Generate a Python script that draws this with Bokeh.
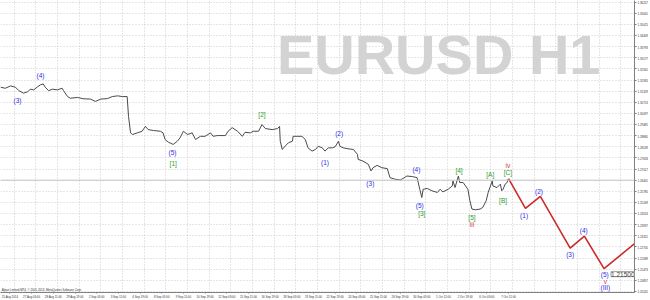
from bokeh.plotting import figure
from bokeh.models import Range1d, FixedTicker, PrintfTickFormatter, Label, Span
from bokeh.core.properties import value
from bokeh.embed import file_html
from bokeh.resources import INLINE

# ---- data (hourly bar index, EURUSD close) ----
bars = [0,7,15,22,27,34,40,44,49,55,59,63,66,71,77,84,91,93,99,103,114,122,133,140,148,158,165,173,180,187,
        189,192,195,202,209,214,218,226,236,240,243,248,255,261,265,270,276,283,288,295,302,310,314,320,332,336,342,350,357,361,
        369,373,381,386,391,401,409,412,413,416,420,425,431,432,438,445,450,454,460,465,469,475,479,484,490,494,499,501,506,513,
        521,527,528,535,543,547,550,556,563,571,575,583,590,594,600,608,615,619,622,624,630,637,645,649,653,661,667,668,671,676,
        678,683,690,693,696,701,708,712,717,720,726,727,733,738,740,742,745,748,749]
prices = [1.3155,1.3149,1.3162,1.3155,1.3136,1.3122,1.3129,1.3144,1.3140,1.3158,1.3168,1.3173,1.3155,1.3136,1.3144,1.3140,1.3149,1.3136,1.3103,1.3094,
          1.3098,1.3091,1.3089,1.3076,1.3089,1.3092,1.3103,1.3107,1.3103,1.3103,1.2993,1.2902,1.2893,1.2902,1.2911,1.2938,1.2920,1.2915,1.2911,1.2902,
          1.2865,1.2850,1.2838,1.2856,1.2874,1.2911,1.2893,1.2902,1.2865,1.2883,1.2883,1.2902,1.2883,1.2887,1.2887,1.2911,1.2931,1.2911,1.2883,1.2905,
          1.2902,1.2911,1.2911,1.2948,1.2926,1.2920,1.2926,1.2938,1.2856,1.2810,1.2828,1.2847,1.2856,1.2883,1.2883,1.2883,1.2865,1.2819,1.2801,1.2810,
          1.2828,1.2819,1.2801,1.2819,1.2819,1.2825,1.2856,1.2828,1.2819,1.2814,1.2810,1.2783,1.2755,1.2746,1.2728,1.2691,1.2709,1.2722,1.2709,1.2704,
          1.2654,1.2645,1.2641,1.2649,1.2663,1.2660,1.2654,1.2590,1.2544,1.2590,1.2594,1.2581,1.2572,1.2590,1.2575,1.2590,1.2608,1.2636,1.2599,1.2663,
          1.2627,1.2627,1.2590,1.2526,1.2480,1.2476,1.2480,1.2489,1.2526,1.2572,1.2636,1.2608,1.2599,1.2618,1.2581,1.2590,1.2618,1.2627,1.2645]

# forecast path
fc_bars = [750, 775, 797, 841, 862, 891, 945]
fc_prices = [1.2649, 1.2484, 1.2550, 1.2264, 1.2330, 1.2150, 1.2316]
target_price = 1.2150
target_text = "1.21500"
current_bid = 1.2640
bid_text = "1.26400"

# wave labels
wave_text = ["(3)","(4)","(5)","[1]","[2]","(1)","(2)","(3)","(4)","(5)","[3]","[4]","[5]","iii","[A]","[B]","iv","[C]",
             "(1)","(2)","(3)","(4)","(5)","v","(III)"]
wave_bar = [25,59,254,255,386,479,500,546,614,619,622,677,696,696,723,742,749,749,773,795,841,861,892,893,893]
wave_price = [1.3080,1.3217,1.2794,1.2733,1.3003,1.2739,1.2898,1.2623,1.2697,1.2502,1.2453,1.2691,1.2436,1.2392,1.2669,1.2526,
              1.2722,1.2680,1.2447,1.2575,1.2227,1.2361,1.2119,1.2080,1.2046]
wave_degree = ["minute","minute","minute","minor","minor","minute","minute","minute","minute","minute","minor","minor","minor",
               "intermediate","minor","minor","intermediate","minor","minute","minute","minute","minute","minute","intermediate","minute"]

# axis ticks
price_ticks = [1.36257,1.35641,1.35025,1.34409,1.33793,1.33177,1.32561,1.31945,1.31329,1.30713,1.30097,1.29481,1.28865,
               1.28249,1.27633,1.27017,1.26401,1.25785,1.25169,1.24553,1.23937,1.23321,1.22705,1.22089,1.21473,1.20857,1.20241]
time_labels = ["25 Aug 2014","27 Aug 03:00","28 Aug 11:00","29 Aug 19:00","2 Sep 03:00","3 Sep 11:00","4 Sep 19:00",
               "8 Sep 03:00","9 Sep 11:00","10 Sep 19:00","12 Sep 03:00","15 Sep 11:00","16 Sep 19:00","18 Sep 03:00",
               "19 Sep 11:00","22 Sep 19:00","24 Sep 03:00","25 Sep 11:00","26 Sep 19:00","30 Sep 03:00","1 Oct 11:00",
               "2 Oct 19:00","6 Oct 03:00","7 Oct 11:00"]
label_every = 32
first_label_bar = 14

degree_colors = {"minute": "#2f2fe8", "minor": "#2e9a2e", "intermediate": "#d24040"}

p = figure(width=650, height=300, output_backend="svg", toolbar_location=None,
           x_range=Range1d(0, 936), y_range=Range1d(1.2018, 1.3635), y_axis_location="right",
           min_border_left=0, min_border_top=0, min_border_right=15, min_border_bottom=6,
           background_fill_color="white", border_fill_color="white")
p.outline_line_color = None

time_ticks = [first_label_bar + label_every * i for i in range(len(time_labels))]
p.xaxis.ticker = FixedTicker(ticks=time_ticks)
p.xaxis.major_label_overrides = {t: s for t, s in zip(time_ticks, time_labels)}
p.yaxis.ticker = FixedTicker(ticks=price_ticks)
p.yaxis.formatter = PrintfTickFormatter(format="%.5f")
for ax in (p.xaxis, p.yaxis):
    ax.major_label_text_font = "Liberation Sans"
    ax.major_label_text_font_size = "2.9px"
    ax.major_label_text_color = "#333333"
    ax.axis_line_color = "#808080"
    ax.major_tick_line_color = "#808080"
    ax.major_tick_out = 2
    ax.major_tick_in = 0
    ax.minor_tick_line_color = None
    ax.major_label_standoff = 1
p.xaxis.major_tick_out = 1
p.xaxis.major_label_standoff = 1

p.xgrid.ticker = FixedTicker(ticks=[20 + label_every * i for i in range(30)])
for g in (p.xgrid, p.ygrid):
    g.grid_line_color = "#cccccc"
    g.grid_line_dash = "1 2"
    g.grid_line_width = 1

p.add_layout(Label(x=p.x_range.end, y=p.y_range.end, x_offset=-34, y_offset=-54, text="EURUSD H1",
                   text_align="right", text_baseline="alphabetic", text_font="Liberation Sans",
                   text_font_style="bold", text_font_size="56px", text_color="#d3d3d3"))

p.add_layout(Span(location=current_bid, dimension="width", line_color="#c4c4c4", line_width=1))

p.line(bars, prices, line_color="#4a4a4a", line_width=1)
p.line(fc_bars, fc_prices, line_color="#cc2a2a", line_width=1.6)

colors = [degree_colors[d] for d in wave_degree]
p.text(x=wave_bar, y=wave_price, text=wave_text, text_color=colors, text_align="center",
       text_baseline="middle", text_font=value("Liberation Sans"), text_font_size="6.5px")

p.add_layout(Label(x=fc_bars[5], y=target_price, x_offset=7, y_offset=-3, text=target_text,
                   text_align="left", text_baseline="top", text_font="Liberation Sans", text_font_size="6.5px",
                   text_color="#404040", background_fill_color="white", border_line_color="#9a9a9a"))

p.add_layout(Label(x=p.x_range.end, y=current_bid, x_offset=1, text=bid_text, text_align="left",
                   text_baseline="middle", text_font="Liberation Sans", text_font_size="2.9px",
                   text_color="white", background_fill_color="black"))

p.add_layout(Label(x=2, y=p.y_range.start, y_offset=1, text="Alpari Limited MT4, \u00a9 2001-2013, MetaQuotes Software Corp.",
                   text_align="left", text_baseline="bottom", text_font="Liberation Sans", text_font_size="2.9px",
                   text_color="#333333"))

open("out.html", "w").write(file_html(p, INLINE))
